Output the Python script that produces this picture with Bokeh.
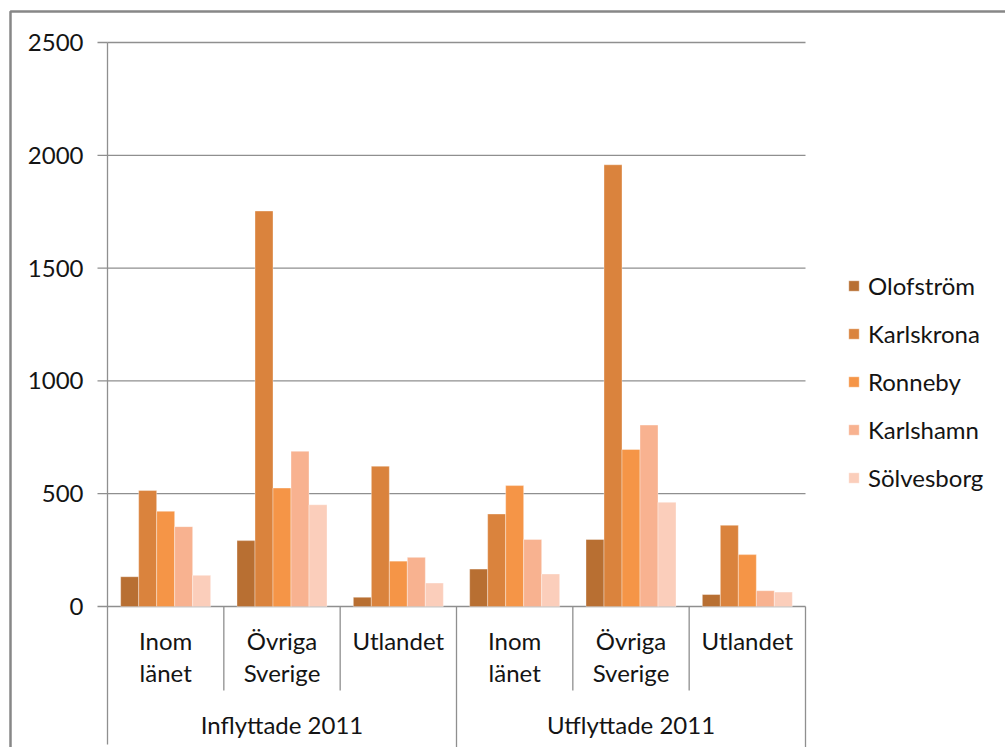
from bokeh.plotting import figure
from bokeh.models import Range1d, Legend, LegendItem
from bokeh.core.properties import value
from bokeh.embed import file_html
from bokeh.resources import INLINE

# ---- data -------------------------------------------------------------
groups = ["Inflyttade 2011", "Utflyttade 2011"]
categories = ["Inom länet", "Övriga Sverige", "Utlandet"]
series = ["Olofström", "Karlskrona", "Ronneby", "Karlshamn", "Sölvesborg"]

olofstrom = [132, 292, 41, 166, 297, 53]
karlskrona = [514, 1753, 622, 410, 1958, 360]
ronneby = [422, 525, 201, 536, 696, 230]
karlshamn = [354, 688, 218, 297, 804, 70]
solvesborg = [138, 451, 104, 144, 462, 64]

y_ticks = [0, 500, 1000, 1500, 2000, 2500]

# ---- styling ----------------------------------------------------------
colors = ["#B86F32", "#DA833D", "#F59547", "#F8B290", "#FBCEBB"]
FONT_NAME = "Lato"
FONT = value(FONT_NAME)
TEXT_COLOR = "#141414"
GRID_COLOR = "#8F8F8F"
FS = "24px"

W, H = 1005, 747
# pixel geometry of the value area
PX_LEFT, PX_RIGHT, PX_TOP, PX_ZERO = 107, 805, 42, 606

n_cols = len(groups) * len(categories)
ux = (PX_RIGHT - PX_LEFT) / n_cols          # pixels per category slot
uy = (PX_ZERO - PX_TOP) / y_ticks[-1]       # pixels per unit value


def xd(px):
    return (px - PX_LEFT) / ux


def yd(py):
    return (PX_ZERO - py) / uy


p = figure(width=W, height=H,
           x_range=Range1d(xd(0), xd(W)), y_range=Range1d(yd(H), yd(0)),
           x_axis_location=None, y_axis_location=None,
           output_backend="svg", toolbar_location=None,
           min_border=0, outline_line_color=None,
           background_fill_color="white", border_fill_color="white")
p.grid.visible = False

# chart area border (top and left edge)
p.line(x=[xd(10), xd(10), xd(W + 10)], y=[yd(H + 10), yd(11), yd(11)],
       line_color="#878787", line_width=2.5)

# horizontal gridlines
p.segment(x0=[0] * len(y_ticks), x1=[n_cols] * len(y_ticks),
          y0=y_ticks, y1=y_ticks, line_color=GRID_COLOR, line_width=1.3)

# value axis: line, ticks and labels
p.segment(x0=[0], x1=[0], y0=[y_ticks[-1]], y1=[yd(744)],
          line_color=GRID_COLOR, line_width=1.3)
p.segment(x0=[xd(97)] * len(y_ticks), x1=[0] * len(y_ticks),
          y0=y_ticks, y1=y_ticks, line_color=GRID_COLOR, line_width=1.3)
p.text(x=[xd(83)] * len(y_ticks), y=y_ticks, text=[str(t) for t in y_ticks],
       text_align="right", text_baseline="middle", text_font=FONT,
       text_font_size=FS, text_color=TEXT_COLOR)

# bars
data = [olofstrom, karlskrona, ronneby, karlshamn, solvesborg]
bar_w = 18 / ux
items = []
for s, (name, vals) in enumerate(zip(series, data)):
    xs = [i + 0.5 + (s - (len(series) - 1) / 2) * bar_w for i in range(n_cols)]
    r = p.vbar(x=xs, top=vals, bottom=0, width=bar_w,
               fill_color=colors[s], line_color="white", line_alpha=0.35,
               line_width=1)
    items.append(LegendItem(label=name, renderers=[r]))

# category separators
inner = [i for i in range(1, n_cols) if i % len(categories) != 0]
outer = [i for i in range(len(categories), n_cols + 1, len(categories))]
p.segment(x0=inner, x1=inner, y0=[0] * len(inner), y1=[yd(690)] * len(inner),
          line_color=GRID_COLOR, line_width=1.3)
p.segment(x0=outer, x1=outer, y0=[0] * len(outer), y1=[yd(H + 5)] * len(outer),
          line_color=GRID_COLOR, line_width=1.3)

# category labels (wrapped onto two lines)
first_x, first_t, second_x, second_t = [], [], [], []
for g in range(len(groups)):
    for c, cat in enumerate(categories):
        i = g * len(categories) + c
        words = cat.split(" ")
        first_x.append(i + 0.5)
        first_t.append(words[0])
        if len(words) > 1:
            second_x.append(i + 0.5)
            second_t.append(" ".join(words[1:]))
p.text(x=first_x, y=[yd(640)] * len(first_x), text=first_t,
       text_align="center", text_baseline="middle", text_font=FONT,
       text_font_size=FS, text_color=TEXT_COLOR)
p.text(x=second_x, y=[yd(672)] * len(second_x), text=second_t,
       text_align="center", text_baseline="middle", text_font=FONT,
       text_font_size=FS, text_color=TEXT_COLOR)

# group labels
gx = [g * len(categories) + len(categories) / 2 for g in range(len(groups))]
p.text(x=gx, y=[yd(724)] * len(gx), text=groups,
       text_align="center", text_baseline="middle", text_font=FONT,
       text_font_size=FS, text_color=TEXT_COLOR)

legend = Legend(items=items, location=(847, 255),
                glyph_width=13, glyph_height=13, label_standoff=8,
                label_height=27, spacing=19, padding=0, margin=0,
                label_text_font=FONT_NAME, label_text_font_size=FS,
                label_text_color=TEXT_COLOR,
                border_line_color=None, background_fill_alpha=0)
p.add_layout(legend)

open("out.html", "w").write(file_html(p, INLINE))
